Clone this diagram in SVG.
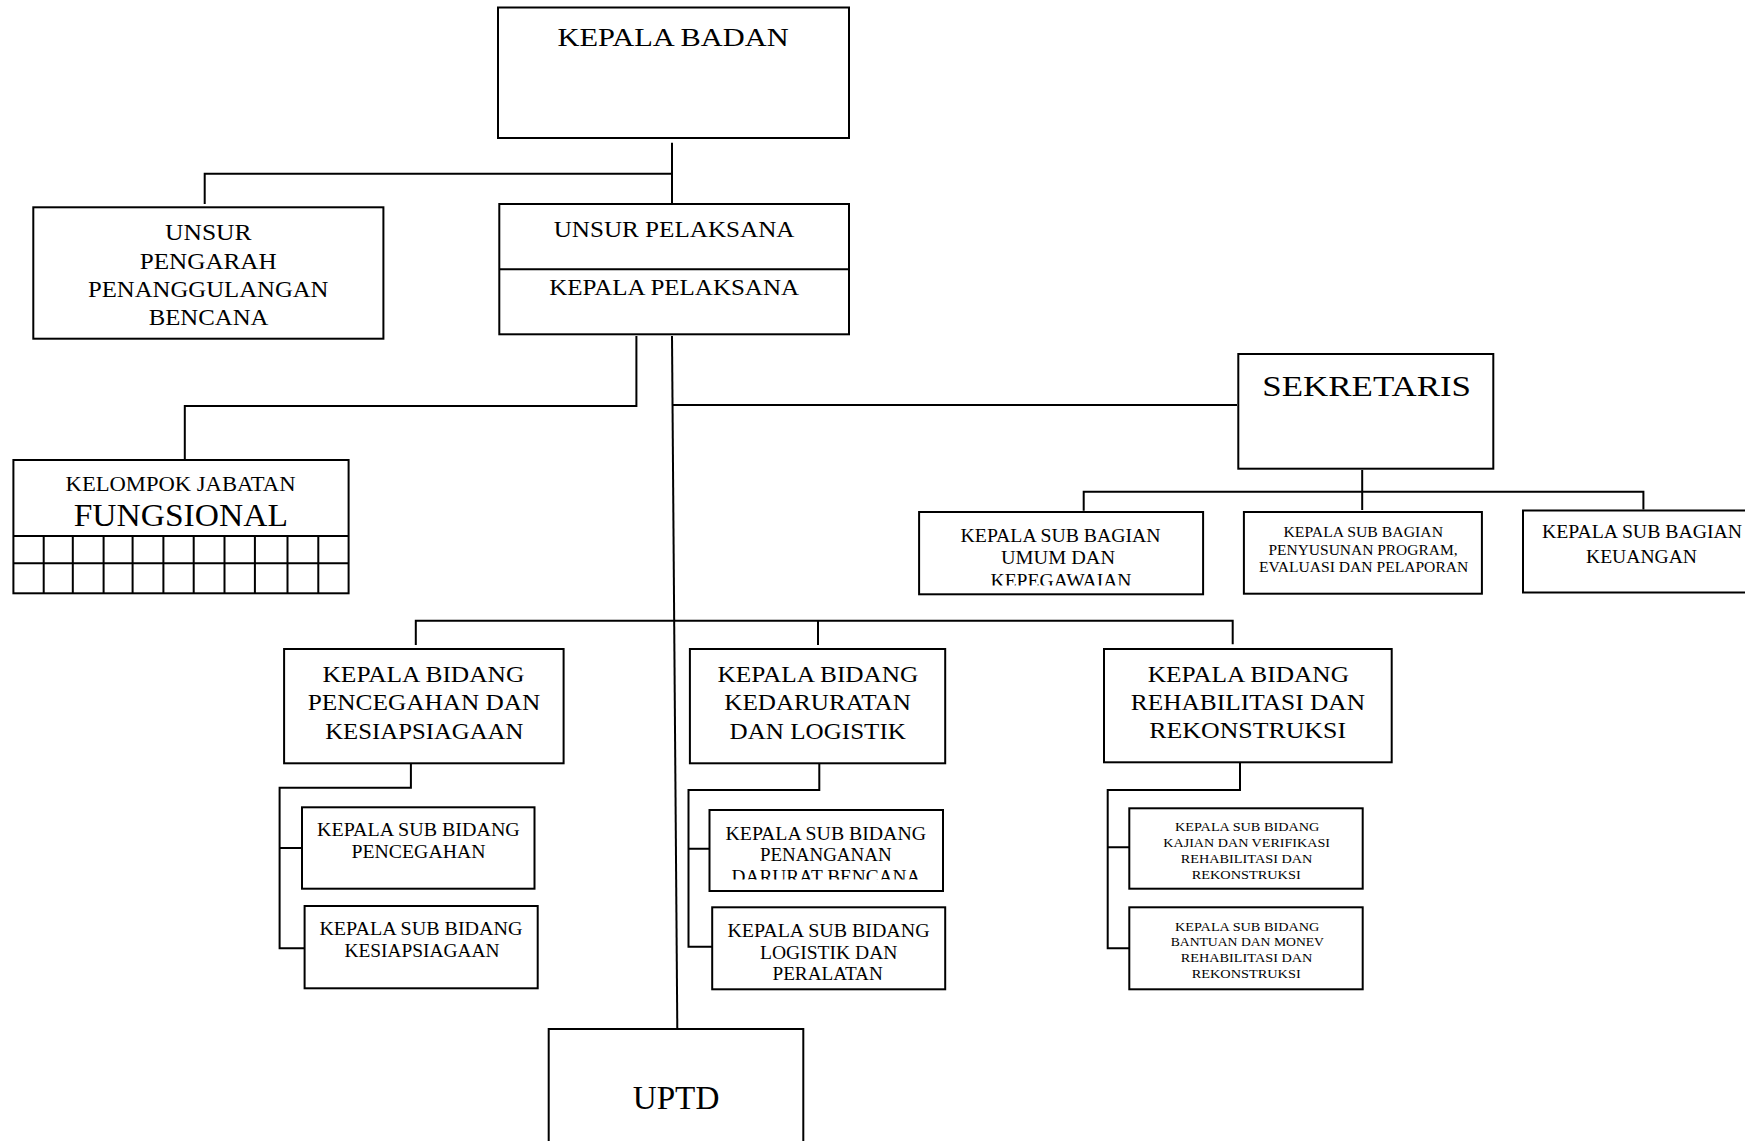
<svg xmlns="http://www.w3.org/2000/svg" width="1745" height="1141" viewBox="0 0 1745 1141">
<style>
.box{fill:#fff;stroke:#000;stroke-width:2}
.ln{fill:none;stroke:#000;stroke-width:2}
text{font-family:"Liberation Serif","Times New Roman",serif;fill:#000}
.f33{font-size:33px}.f31{font-size:31px}.f30{font-size:30px}.f26{font-size:26px}
.f23{font-size:23px}.f22{font-size:21.6px}.f19{font-size:19px}.f18{font-size:18px}
.f14{font-size:14px}.f12{font-size:12.5px}
</style>
<defs>
<clipPath id="clipSB1"><rect x="919" y="511" width="285" height="74.5"/></clipPath>
<clipPath id="clipB1"><rect x="709" y="809" width="235" height="70.5"/></clipPath>
</defs>
<rect width="1745" height="1141" fill="#fff"/>
<g id="connectors">
<path class="ln" d="M672 142.7V206"/>
<path class="ln" d="M672 173.7H204.7V204"/>
<path class="ln" d="M636.4 336V406H184.8V459"/>
<path class="ln" d="M672 336L677.3 1029"/>
<path class="ln" d="M672 405H1237"/>
<path class="ln" d="M1362.2 470V510"/>
<path class="ln" d="M1083.7 510.7V491.7H1643.4V509.5"/>
<path class="ln" d="M415.8 645V620.7H1232.7V644.3"/>
<path class="ln" d="M818 620.7V645"/>
<path class="ln" d="M410.9 763.3V787.7H279.6V948.3H304.6M279.6 848H302"/>
<path class="ln" d="M819.3 763.3V790H688.5V946.7H712.2M688.5 848.7H709.5"/>
<path class="ln" d="M1240 762.3V790H1107.7V948.3H1129.3M1107.7 847.3H1129.3"/>
</g>
<g id="kepala-badan">
<rect class="box" x="498" y="7.5" width="351" height="130.5"/>
<text class="f26" x="557.6" y="45.7" textLength="231" lengthAdjust="spacingAndGlyphs">KEPALA BADAN</text>
</g>
<g id="unsur-pengarah">
<rect class="box" x="33.3" y="207.3" width="350.1" height="131.4"/>
<text class="f23" x="165" y="240" textLength="86.6" lengthAdjust="spacingAndGlyphs">UNSUR</text>
<text class="f23" x="139.7" y="269" textLength="137" lengthAdjust="spacingAndGlyphs">PENGARAH</text>
<text class="f23" x="88" y="297.2" textLength="240.5" lengthAdjust="spacingAndGlyphs">PENANGGULANGAN</text>
<text class="f23" x="148.7" y="324.7" textLength="119.8" lengthAdjust="spacingAndGlyphs">BENCANA</text>
</g>
<g id="unsur-pelaksana">
<rect class="box" x="499.3" y="204" width="349.7" height="130.3"/>
<line class="ln" x1="499.3" y1="269.3" x2="849" y2="269.3"/>
<text class="f23" x="553.7" y="237.3" textLength="240.8" lengthAdjust="spacingAndGlyphs">UNSUR PELAKSANA</text>
<text class="f23" x="549.3" y="295" textLength="249.7" lengthAdjust="spacingAndGlyphs">KEPALA PELAKSANA</text>
</g>
<g id="kelompok-fungsional">
<rect class="box" x="13.4" y="460" width="335.2" height="133.3"/>
<path class="ln" d="M13.4 536H348.6M13.4 563.3H348.6M43.7 536V593.3M72.8 536V593.3M103.6 536V593.3M132.6 536V593.3M163.4 536V593.3M193.7 536V593.3M224.5 536V593.3M254.9 536V593.3M287.5 536V593.3M318.3 536V593.3"/>
<text class="f22" x="65.6" y="491" textLength="229.9" lengthAdjust="spacingAndGlyphs">KELOMPOK JABATAN</text>
<text class="f31" x="73.7" y="525.7" textLength="214.2" lengthAdjust="spacingAndGlyphs">FUNGSIONAL</text>
</g>
<g id="sekretaris">
<rect class="box" x="1238.3" y="354" width="255" height="114.7"/>
<text class="f30" x="1262.3" y="395.7" textLength="208.7" lengthAdjust="spacingAndGlyphs">SEKRETARIS</text>
</g>
<g id="subbag-umum">
<rect class="box" x="919.1" y="512" width="284" height="82.3"/>
<text class="f18" x="960.6" y="541.7" textLength="200" lengthAdjust="spacingAndGlyphs">KEPALA SUB BAGIAN</text>
<text class="f18" x="1001" y="564.3" textLength="114" lengthAdjust="spacingAndGlyphs">UMUM DAN</text>
<text class="f18" x="990.5" y="587" textLength="141" lengthAdjust="spacingAndGlyphs" clip-path="url(#clipSB1)">KEPEGAWAIAN</text>
</g>
<g id="subbag-program">
<rect class="box" x="1243.9" y="512" width="238" height="81.7"/>
<text class="f14" x="1283.5" y="536.5" textLength="159.5" lengthAdjust="spacingAndGlyphs">KEPALA SUB BAGIAN</text>
<text class="f14" x="1268.5" y="554.5" textLength="189" lengthAdjust="spacingAndGlyphs">PENYUSUNAN PROGRAM,</text>
<text class="f14" x="1259" y="572" textLength="209.3" lengthAdjust="spacingAndGlyphs">EVALUASI DAN PELAPORAN</text>
</g>
<g id="subbag-keuangan">
<rect class="box" x="1523" y="510.5" width="260" height="82"/>
<text class="f18" x="1542" y="538.3" textLength="200" lengthAdjust="spacingAndGlyphs">KEPALA SUB BAGIAN</text>
<text class="f18" x="1586" y="562.7" textLength="111" lengthAdjust="spacingAndGlyphs">KEUANGAN</text>
</g>
<g id="bidang-pencegahan">
<rect class="box" x="284.1" y="649" width="279.5" height="114.3"/>
<text class="f23" x="322.5" y="681.7" textLength="201.8" lengthAdjust="spacingAndGlyphs">KEPALA BIDANG</text>
<text class="f23" x="307.8" y="710" textLength="232.5" lengthAdjust="spacingAndGlyphs">PENCEGAHAN DAN</text>
<text class="f23" x="325.2" y="739.3" textLength="198.2" lengthAdjust="spacingAndGlyphs">KESIAPSIAGAAN</text>
</g>
<g id="bidang-kedaruratan">
<rect class="box" x="689.9" y="649" width="255.3" height="114.3"/>
<text class="f23" x="717.6" y="681.7" textLength="200.8" lengthAdjust="spacingAndGlyphs">KEPALA BIDANG</text>
<text class="f23" x="724.3" y="710" textLength="186.5" lengthAdjust="spacingAndGlyphs">KEDARURATAN</text>
<text class="f23" x="729.6" y="739.3" textLength="176.3" lengthAdjust="spacingAndGlyphs">DAN LOGISTIK</text>
</g>
<g id="bidang-rehabilitasi">
<rect class="box" x="1104" y="649" width="287.7" height="113.3"/>
<text class="f23" x="1147.7" y="681.7" textLength="201.3" lengthAdjust="spacingAndGlyphs">KEPALA BIDANG</text>
<text class="f23" x="1130.7" y="710" textLength="234.3" lengthAdjust="spacingAndGlyphs">REHABILITASI DAN</text>
<text class="f23" x="1149.3" y="738.3" textLength="196.7" lengthAdjust="spacingAndGlyphs">REKONSTRUKSI</text>
</g>
<g id="subbid-pencegahan">
<rect class="box" x="302" y="807.3" width="232.5" height="81.4"/>
<text class="f19" x="317.1" y="835.7" textLength="202.7" lengthAdjust="spacingAndGlyphs">KEPALA SUB BIDANG</text>
<text class="f19" x="351.5" y="858.3" textLength="134" lengthAdjust="spacingAndGlyphs">PENCEGAHAN</text>
</g>
<g id="subbid-kesiapsiagaan">
<rect class="box" x="304.6" y="906" width="233.1" height="82.3"/>
<text class="f19" x="319.4" y="935" textLength="203.1" lengthAdjust="spacingAndGlyphs">KEPALA SUB BIDANG</text>
<text class="f19" x="344.4" y="957.3" textLength="155" lengthAdjust="spacingAndGlyphs">KESIAPSIAGAAN</text>
</g>
<g id="subbid-penanganan">
<rect class="box" x="709.5" y="810" width="233.5" height="81"/>
<text class="f19" x="725.5" y="839.8" textLength="200.5" lengthAdjust="spacingAndGlyphs">KEPALA SUB BIDANG</text>
<text class="f19" x="760" y="860.7" textLength="131.6" lengthAdjust="spacingAndGlyphs">PENANGANAN</text>
<text class="f19" x="731.5" y="882.5" textLength="189" lengthAdjust="spacingAndGlyphs" clip-path="url(#clipB1)">DARURAT BENCANA</text>
</g>
<g id="subbid-logistik">
<rect class="box" x="712.2" y="907.3" width="233" height="82"/>
<text class="f19" x="727.4" y="936.7" textLength="202.2" lengthAdjust="spacingAndGlyphs">KEPALA SUB BIDANG</text>
<text class="f19" x="760" y="959.3" textLength="137.5" lengthAdjust="spacingAndGlyphs">LOGISTIK DAN</text>
<text class="f19" x="772.5" y="980" textLength="110.3" lengthAdjust="spacingAndGlyphs">PERALATAN</text>
</g>
<g id="subbid-kajian">
<rect class="box" x="1129.3" y="808.3" width="233.4" height="80.4"/>
<text class="f12" x="1175" y="831" textLength="144.3" lengthAdjust="spacingAndGlyphs">KEPALA SUB BIDANG</text>
<text class="f12" x="1163.3" y="846.7" textLength="166.7" lengthAdjust="spacingAndGlyphs">KAJIAN DAN VERIFIKASI</text>
<text class="f12" x="1180.7" y="862.7" textLength="131.7" lengthAdjust="spacingAndGlyphs">REHABILITASI DAN</text>
<text class="f12" x="1191.7" y="878.7" textLength="109" lengthAdjust="spacingAndGlyphs">REKONSTRUKSI</text>
</g>
<g id="subbid-bantuan">
<rect class="box" x="1129.3" y="907.3" width="233.4" height="82"/>
<text class="f12" x="1175" y="930.7" textLength="144.3" lengthAdjust="spacingAndGlyphs">KEPALA SUB BIDANG</text>
<text class="f12" x="1170.7" y="946" textLength="153.3" lengthAdjust="spacingAndGlyphs">BANTUAN DAN MONEV</text>
<text class="f12" x="1180.7" y="962" textLength="131.7" lengthAdjust="spacingAndGlyphs">REHABILITASI DAN</text>
<text class="f12" x="1191.7" y="977.7" textLength="109" lengthAdjust="spacingAndGlyphs">REKONSTRUKSI</text>
</g>
<g id="uptd">
<rect class="box" x="548.7" y="1029" width="254.6" height="140"/>
<text class="f33" x="632.7" y="1109.3" textLength="86.7" lengthAdjust="spacingAndGlyphs">UPTD</text>
</g>
</svg>
